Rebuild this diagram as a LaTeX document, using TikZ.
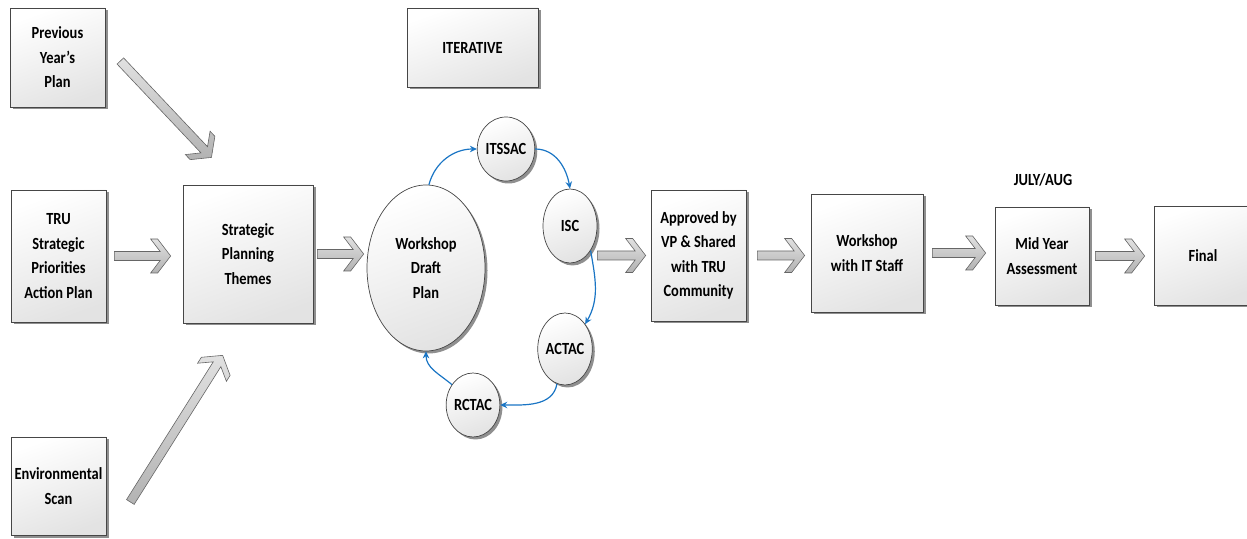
\documentclass[tikz,border=0pt]{standalone}
\usepackage{fontspec}
\setmainfont{Carlito}[FakeStretch=0.85]
\usetikzlibrary{shapes.geometric,shadows,calc,arrows.meta}

\definecolor{loopblue}{RGB}{26,117,196}
\definecolor{edgegray}{RGB}{70,70,70}

\tikzset{
  stepbox/.style={draw=edgegray, line width=0.7pt, top color=white, bottom color=black!11,
    shading angle=20, inner sep=0pt, align=center,
    font=\fontsize{17}{24.5}\selectfont\bfseries,
    drop shadow={shadow xshift=2.5pt, shadow yshift=-2.5pt, fill=black!55, opacity=0.8}},
  meeting/.style={stepbox, ellipse},
  arrowbody/.style={draw=black!60, line width=0.6pt, top color=black!12, bottom color=black!30},
  loop/.style={draw=loopblue, line width=1.2pt, -{Stealth[length=7pt,width=6.5pt]}},
  pics/blockarrow/.style={code={
    \path[arrowbody] (0,-4.5) -- ({#1-10.5},-4.5) -- ({#1-20},-17) -- ({#1-13},-17) -- (#1,0)
      -- ({#1-13},17) -- ({#1-20},17) -- ({#1-10.5},4.5) -- (0,4.5) -- cycle;
  }},
}

% fat hollow arrow from #1 to #2
\newcommand{\joinarrow}[2]{%
  \path let \p1=#1, \p2=#2, \n1={atan2(\y2-\y1,\x2-\x1)}, \n2={veclen(\x2-\x1,\y2-\y1)}
    in (\p1) pic[rotate=\n1] {blockarrow=\n2};
}

\begin{document}
\begin{tikzpicture}[x=1pt,y=1pt]
  \useasboundingbox (0,0) rectangle (1247,538);

  % inputs
  \node[stepbox, minimum width=95, minimum height=99] (prev) at (57.5,480.5) {Previous\\Year’s\\Plan};
  \node[stepbox, minimum width=95, minimum height=132] (tru) at (58.5,282) {TRU\\Strategic\\Priorities\\Action Plan};
  \node[stepbox, minimum width=95, minimum height=98] (env) at (58.5,52) {Environmental\\Scan};
  \node[stepbox, minimum width=130, minimum height=138] (spt) at (248,284) {Strategic\\Planning\\Themes};
  \node[stepbox, minimum width=131, minimum height=79] (iter) at (472.5,490.5) {ITERATIVE};

  % consultation loop
  \node[meeting, minimum width=118, minimum height=166] (wdp) at (426,270) {Workshop\\Draft\\Plan};
  \node[meeting, minimum width=48, minimum height=64] (itssac) at (506,389) {ITSSAC};
  \node[meeting, minimum width=54, minimum height=74] (isc) at (570,312) {ISC};
  \node[meeting, minimum width=46, minimum height=72] (actac) at (565,189) {ACTAC};
  \node[meeting, minimum width=46, minimum height=64] (rctac) at (473,133) {RCTAC};

  % outputs
  \node[stepbox, minimum width=95, minimum height=131] (appr) at (698.5,282.5) {Approved by\\VP \& Shared\\with TRU\\Community};
  \node[stepbox, minimum width=112, minimum height=118] (wsit) at (867,285) {Workshop\\with IT Staff};
  \node[stepbox, minimum width=94, minimum height=98] (mid) at (1042,282) {Mid Year\\Assessment};
  \node[stepbox, minimum width=98, minimum height=99] (final) at (1203,282.5) {Final};
  \node[font=\fontsize{17}{24.5}\selectfont\bfseries] (july) at (1043,358) {JULY/AUG};

  \joinarrow{($(prev.east)+(15,-3.5)$)}{($(spt.north west)+(29,27)$)}
  \joinarrow{($(env.east)+(24,-16)$)}{($(spt.south west)+(40,-32)$)}
  \joinarrow{($(tru.east)+(8,0)$)}{($(tru.east -| spt.west)+(-12,0)$)}
  \joinarrow{($(spt.east)+(4,0)$)}{($(spt.east -| wdp.west)+(-3,0)$)}
  \joinarrow{(isc.east |- appr.west)}{($(appr.west)+(-5,0)$)}
  \joinarrow{($(appr.east)+(11,0)$)}{($(appr.east -| wsit.west)+(-6,0)$)}
  \joinarrow{($(wsit.east)+(9,0)$)}{($(wsit.east -| mid.west)+(-9,0)$)}
  \joinarrow{($(mid.east)+(6,0)$)}{($(mid.east -| final.west)+(-9,0)$)}

  \draw[loop] (wdp.88) to[out=75,in=180] (itssac.west);
  \draw[loop] (itssac.east) to[out=0,in=100] (isc.north);
  \draw[loop] (isc.-50) to[out=-80,in=60] (actac.51);
  \draw[loop] (actac.-103) to[out=-100,in=0] (rctac.east);
  \draw[loop] (rctac.136) to[out=140,in=-90] (wdp.south);
\end{tikzpicture}
\end{document}
